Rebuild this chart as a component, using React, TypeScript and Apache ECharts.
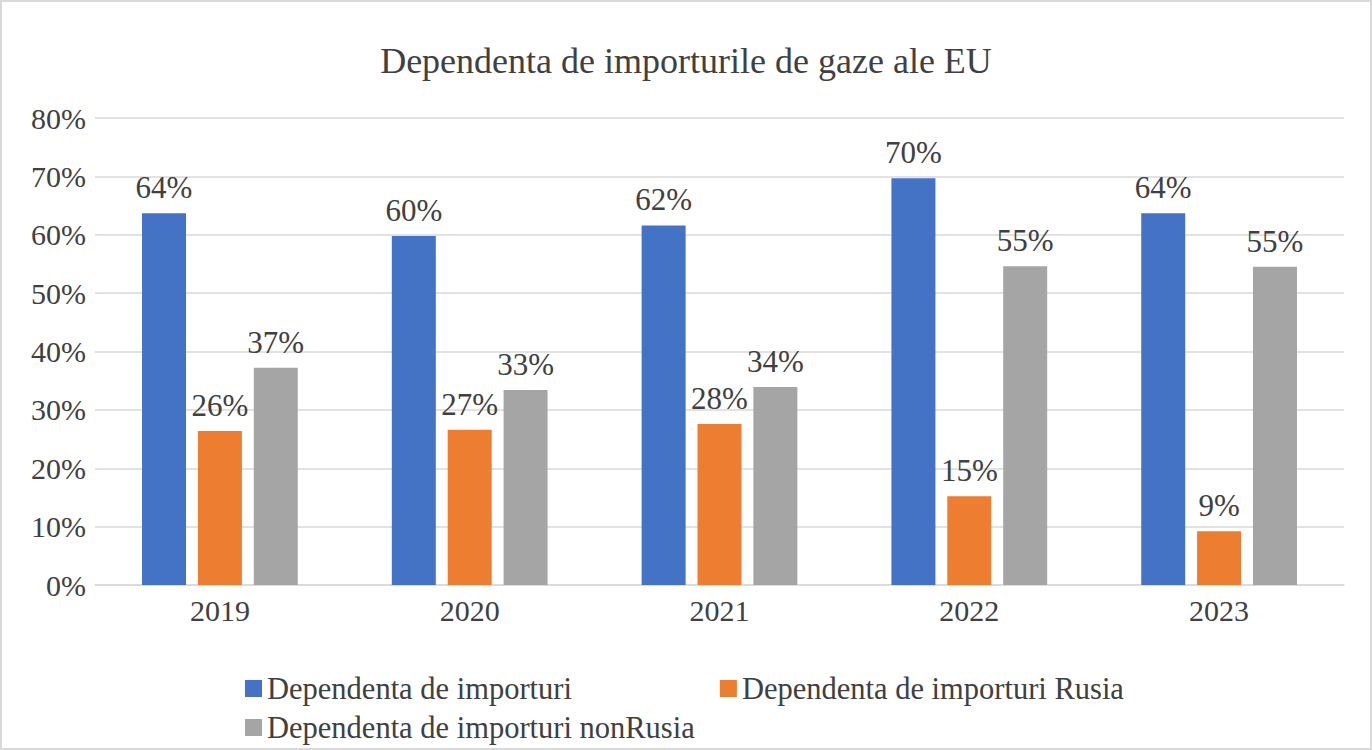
import React, { useEffect, useRef } from "react";
import * as echarts from "echarts";

const title = "Dependenta de importurile de gaze ale EU";
const years = ["2019", "2020", "2021", "2022", "2023"];
const seriesNames = [
  "Dependenta de importuri",
  "Dependenta de importuri Rusia",
  "Dependenta de importuri nonRusia",
];
const importuri = [63.7, 59.8, 61.6, 69.7, 63.7];
const importuriRusia = [26.4, 26.6, 27.6, 15.2, 9.2];
const importuriNonRusia = [37.2, 33.4, 33.9, 54.6, 54.5];
const colors = ["#4472C4", "#ED7D31", "#A5A5A5"];

const FONT = "'Liberation Serif', 'Times New Roman', serif";
const TEXT = "#404040";

export default function App() {
  const ref = useRef<HTMLDivElement>(null);
  useEffect(() => {
    document.body.style.margin = "0";
    const chart = echarts.init(ref.current!, null, { renderer: "svg" });
    const values = [importuri, importuriRusia, importuriNonRusia];
    const legendText = { fontFamily: FONT, fontSize: 30.5, color: TEXT, padding: [0, 0, 0, 0] };
    chart.setOption({
      animation: false,
      backgroundColor: "#ffffff",
      title: {
        text: title,
        left: "center",
        top: 36,
        textStyle: { fontFamily: FONT, fontSize: 36, fontWeight: "normal", color: TEXT },
      },
      legend: [
        {
          data: [seriesNames[0], seriesNames[1]],
          left: 238,
          top: 666,
          icon: "rect",
          itemWidth: 17,
          itemHeight: 17,
          itemGap: 148,
          textStyle: legendText,
        },
        {
          data: [seriesNames[2]],
          left: 238,
          top: 705,
          icon: "rect",
          itemWidth: 17,
          itemHeight: 17,
          textStyle: legendText,
        },
      ],
      grid: { left: 93, right: 26, top: 116, bottom: 163, containLabel: false },
      xAxis: {
        type: "category",
        data: years,
        axisLine: { lineStyle: { color: "#D9D9D9", width: 1.5 } },
        axisTick: { show: false },
        axisLabel: { fontFamily: FONT, fontSize: 30, color: TEXT, margin: 10 },
      },
      yAxis: {
        type: "value",
        min: 0,
        max: 80,
        interval: 10,
        axisLine: { show: false },
        axisTick: { show: false },
        splitLine: { lineStyle: { color: "#D9D9D9", width: 1.5 } },
        axisLabel: {
          fontFamily: FONT,
          fontSize: 30,
          color: TEXT,
          margin: 9,
          formatter: (v: number) => `${v}%`,
        },
      },
      series: seriesNames.map((name, i) => ({
        name,
        type: "bar",
        data: values[i],
        barWidth: 44,
        barGap: "27%",
        itemStyle: { color: colors[i] },
        label: {
          show: true,
          position: "top",
          distance: 10,
          fontFamily: FONT,
          fontSize: 31,
          color: TEXT,
          formatter: (p: any) => `${Math.round(p.value)}%`,
        },
      })),
    });
    return () => chart.dispose();
  }, []);
  return (
    <div
      style={{
        width: 1372,
        height: 750,
        boxSizing: "border-box",
        border: "2px solid #D9D9D9",
        background: "#fff",
      }}
    >
      <div ref={ref} style={{ width: 1368, height: 746 }} />
    </div>
  );
}
